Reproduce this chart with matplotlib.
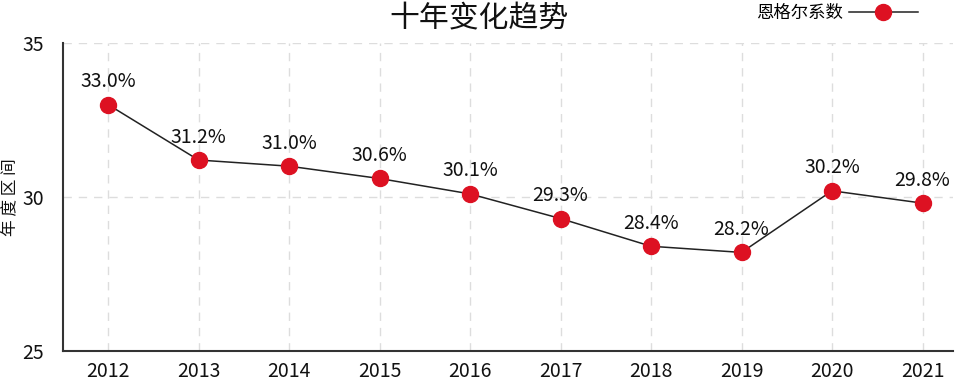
import matplotlib
matplotlib.use("Agg")
import matplotlib.pyplot as plt

years = ["2012", "2013", "2014", "2015", "2016", "2017", "2018", "2019", "2020", "2021"]
engel = [33.0, 31.2, 31.0, 30.6, 30.1, 29.3, 28.4, 28.2, 30.2, 29.8]
yticks = [25, 30, 35]

plt.rcParams['font.family'] = ['Noto Sans CJK SC', 'DejaVu Sans']

fig = plt.figure(figsize=(9.58, 3.86), dpi=100)
ax = fig.add_axes([0.0658, 0.0907, 0.929, 0.798])

x = list(range(len(years)))
ax.plot(x, engel, color='#222222', linewidth=1.1, marker='o', markersize=11.5,
        markerfacecolor='#dd1122', markeredgecolor='#dd1122', label='恩格尔系数', zorder=3)
for xi, v in zip(x, engel):
    ax.annotate(f"{v:.1f}%", (xi, v), xytext=(0, 9), textcoords='offset points',
                ha='center', va='bottom', fontsize=14, color='#111111', fontweight='light')

ax.set_xlim(-0.497, 9.337)
ax.set_ylim(25, 35)
ax.set_xticks(x)
ax.set_xticklabels(years, fontsize=14, fontweight='light')
ax.set_yticks(yticks)
ax.set_yticklabels([str(t) for t in yticks], fontsize=14, fontweight='light')
ax.tick_params(axis='both', length=0, colors='#111111')
ax.tick_params(axis='x', pad=7)
ax.tick_params(axis='y', pad=14)
ax.grid(True, linestyle=(0, (6, 5)), color='#dddddd', linewidth=1)
ax.set_axisbelow(True)
for s in ['top', 'right']:
    ax.spines[s].set_visible(False)
for s in ['left', 'bottom']:
    ax.spines[s].set_color('#333333')
    ax.spines[s].set_linewidth(1.5)

fig.text(10 / 958, 1 - 197 / 386, '年 度 区 间', rotation=90, ha='center', va='center',
         fontsize=12, color='#111111', fontweight='light')
fig.text(0.5, 1 - 19 / 386, '十年变化趋势', ha='center', va='center', fontsize=21.5,
         color='#111111', fontweight='light')
fig.legend(loc='center right', bbox_to_anchor=(918 / 958, 1 - 13 / 386), frameon=False,
           prop={'weight': 'light', 'size': 12.5},
           markerfirst=False, handlelength=4.0, handletextpad=0.35, borderaxespad=0,
           borderpad=0)

fig.savefig('out.png', dpi=100)
